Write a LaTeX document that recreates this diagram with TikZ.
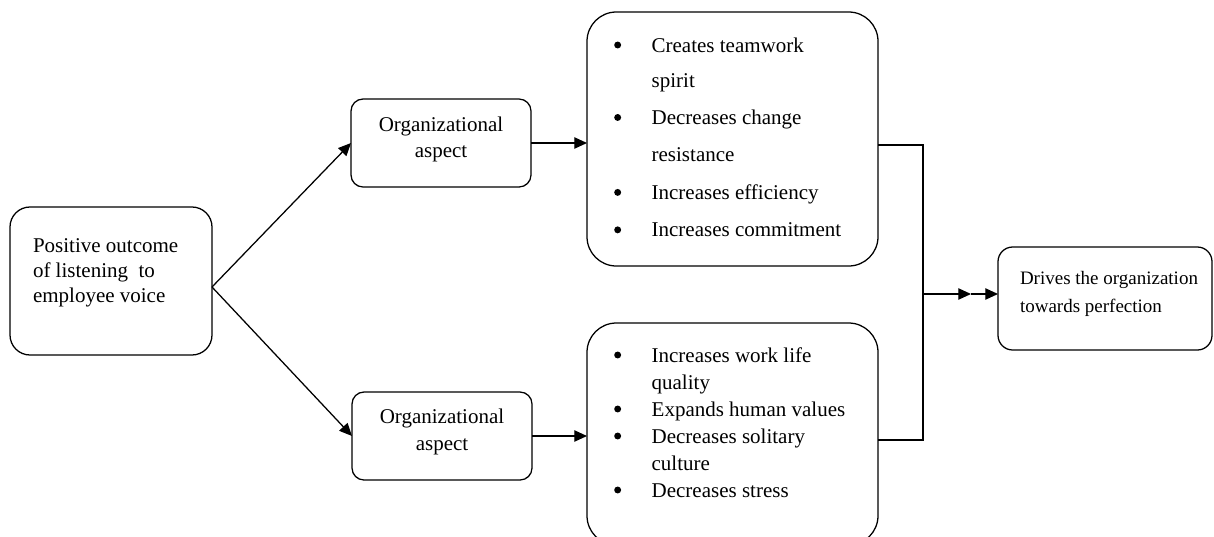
\documentclass[tikz,border=0pt]{standalone}
\usepackage{fontspec}
\setmainfont{Liberation Serif}
\usetikzlibrary{arrows.meta,calc}
% round list bullet, centred a little above the baseline
\newcommand{\listdot}{\tikz[baseline=0pt]\fill (0pt,5.25pt) circle[radius=2.6pt];}
\begin{document}
\begin{tikzpicture}[x=0.75pt,y=-0.75pt,
  box/.style={draw, line width=0.95pt, inner sep=0pt, outer sep=0pt},
  conn/.style={line width=0.95pt, -{Triangle[length=9.5pt,width=8.5pt]}},
  wire/.style={line width=0.95pt},
  txt/.style={inner sep=0pt, outer sep=0pt, anchor=base west},
  ctxt/.style={inner sep=0pt, outer sep=0pt, anchor=base}]
\useasboundingbox (0,0) rectangle (1214,536);
\clip (0,0) rectangle (1214,536);

% boxes
\node[box, rounded corners=15pt, minimum width=151.5pt, minimum height=111pt] (src) at (111,281) {};
\node[box, rounded corners=9pt, minimum width=135pt, minimum height=66pt] (orgA) at (441,143) {};
\node[box, rounded corners=9pt, minimum width=135pt, minimum height=66pt] (orgB) at (442,436) {};
\node[box, rounded corners=22pt, minimum width=218.25pt, minimum height=190.5pt] (listA) at (732.5,139) {};
\node[box, rounded corners=22pt, minimum width=218.25pt, minimum height=166.5pt] (listB) at (732.5,434) {};
\node[box, rounded corners=11pt, minimum width=160.5pt, minimum height=77.25pt] (goal) at (1105,298.5) {};

% texts
\node[txt, font=\fontsize{15.75}{19.1}\selectfont] (srcT) at (33,252)
  {\begin{tabular}[t]{@{}l@{}}Positive outcome\\ of listening \ to\\ employee voice\end{tabular}};
\node[ctxt, font=\fontsize{15.75}{19.8}\selectfont] (orgAT) at (441,131)
  {\begin{tabular}[t]{@{}c@{}}Organizational\\ aspect\end{tabular}};
\node[ctxt, font=\fontsize{15.75}{20.8}\selectfont] (orgBT) at (442,423)
  {\begin{tabular}[t]{@{}c@{}}Organizational\\ aspect\end{tabular}};
\node[txt, font=\fontsize{15.75}{21}\selectfont] (listAT) at (614.2,52)
  {\begin{tabular}[t]{@{}l@{\hspace{22.9pt}}l@{}}
   \listdot & Creates teamwork\\[5.25pt]
            & spirit\\[7.1pt]
   \listdot & Decreases change\\[7.1pt]
            & resistance\\[7.1pt]
   \listdot & Increases efficiency\\[7.1pt]
   \listdot & Increases commitment
   \end{tabular}};
\node[txt, font=\fontsize{15.75}{20.25}\selectfont] (listBT) at (614.2,362)
  {\begin{tabular}[t]{@{}l@{\hspace{22.9pt}}l@{}}
   \listdot & Increases work life\\
            & quality\\
   \listdot & Expands human values\\
   \listdot & Decreases solitary\\
            & culture\\
   \listdot & Decreases stress
   \end{tabular}};
\node[txt, font=\fontsize{14.25}{21}\selectfont] (goalT) at (1020,284)
  {\begin{tabular}[t]{@{}l@{}}Drives the organization\\ towards perfection\end{tabular}};

% connectors
\draw[conn] ([yshift=-4.5pt]src.east) -- (orgA.west);
\draw[conn] ([yshift=-4.5pt]src.east) -- (orgB.west);
\draw[conn] (orgA.east) -- (orgA.east -| listA.west);
\draw[conn] (orgB.east) -- (orgB.east -| listB.west);
\coordinate (join) at (923,294);
\coordinate (mid) at (971,294);
\draw[wire] ([yshift=-4.5pt]listA.east) -| (join);
\draw[wire] ([yshift=-4.5pt]listB.east) -| (join);
\draw[conn] (join) -- (mid);
\draw[conn] (mid) -- (join -| goal.west);
\end{tikzpicture}
\end{document}
